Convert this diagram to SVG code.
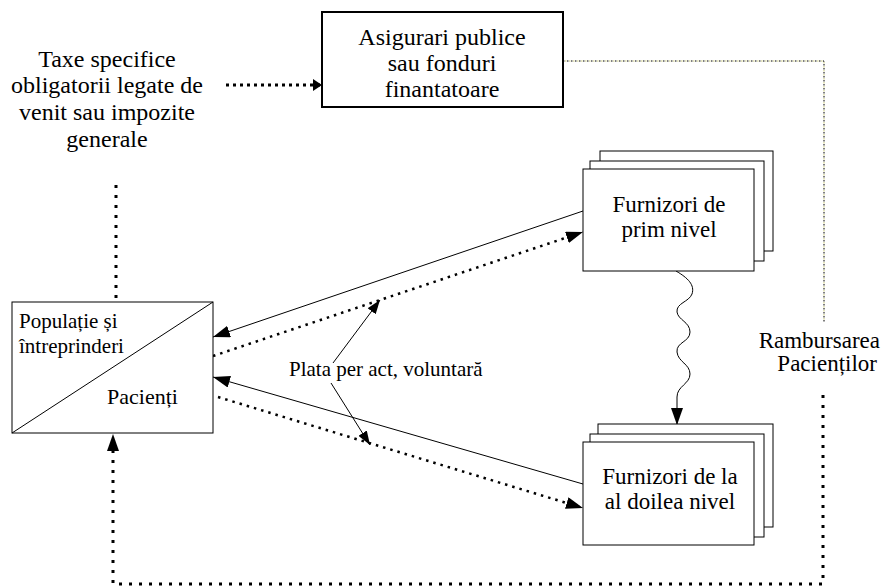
<svg xmlns="http://www.w3.org/2000/svg" width="882" height="587" viewBox="0 0 882 587" font-family="'Liberation Serif', Tinos, 'Times New Roman', 'DejaVu Serif', serif">
<style>
text{font-family:'Liberation Serif', Tinos, 'Times New Roman', 'DejaVu Serif', serif;fill:#000}
.t24{font-size:24px}
.t23{font-size:23px}
.t21{font-size:21px}
.box{fill:#fff;stroke:#000;stroke-width:1}
.box2{fill:#fff;stroke:#000;stroke-width:2}
.solid{fill:none;stroke:#000;stroke-width:1}
.dot{fill:none;stroke:#000;stroke-width:2.5;stroke-dasharray:2.5 5}
.dotb{fill:none;stroke:#000;stroke-width:3;stroke-dasharray:3 7}
.thin{fill:none;stroke-width:1;stroke-dasharray:1.5 2.5}
</style>
<defs>
<marker id="ah" viewBox="0 0 17 12" refX="17" refY="6" markerWidth="17" markerHeight="12" markerUnits="userSpaceOnUse" orient="auto"><path d="M0,0 L17,6 L0,12 z" fill="#000"/></marker>
<marker id="ahs" viewBox="0 0 14 10" refX="14" refY="5" markerWidth="14" markerHeight="10" markerUnits="userSpaceOnUse" orient="auto"><path d="M0,0 L14,5 L0,10 z" fill="#000"/></marker>
<marker id="ahm" viewBox="0 0 9 12" refX="9" refY="6" markerWidth="9" markerHeight="12" markerUnits="userSpaceOnUse" orient="auto"><path d="M0,0 L9,6 L0,12 z" fill="#000"/></marker>
</defs>

<g id="connectors">
<path class="dot" d="M226,85 L322,85" style="stroke-width:3;stroke-dasharray:3 4" marker-end="url(#ahm)"/>
<path class="thin" stroke="#c8c878" d="M563,61 L824,61 L824,322" stroke-dashoffset="2"/>
<path class="thin" stroke="#000" d="M563,61 L824,61 L824,322"/>
<path class="dotb" d="M116,185 L116,302"/>
<path class="dotb" d="M823,395 L823,584 L113,584 L113,434" marker-end="url(#ah)"/>
<path class="solid" d="M583,211 L213,337" marker-end="url(#ah)"/>
<path class="dot" d="M213,356 L583,232" marker-end="url(#ah)"/>
<path class="solid" d="M583,484 L213,377" marker-end="url(#ah)"/>
<path class="dot" d="M218,397 L583,508" marker-end="url(#ah)"/>
<path class="solid" d="M333,363 L380,300" marker-end="url(#ahs)"/>
<path class="solid" d="M331,383 L370,445" marker-end="url(#ahs)"/>
<path class="solid" d="M676,271 C688,278 695,285 692,294 C689,302 676,303 677,312 C678,320 690,322 690,332 C690,342 676,342 677,352 C678,362 690,364 690,374 C690,384 677,386 677,397 L677,425" marker-end="url(#ah)"/>
</g>

<g id="node-taxe">
<text class="t24" text-anchor="middle" x="107" y="67">Taxe specifice</text>
<text class="t24" text-anchor="middle" x="107" y="93">obligatorii legate de</text>
<text class="t24" text-anchor="middle" x="107" y="120">venit sau impozite</text>
<text class="t24" text-anchor="middle" x="107" y="147">generale</text>
</g>

<g id="node-asigurari">
<rect class="box2" x="322" y="12" width="241" height="95"/>
<text class="t24" text-anchor="middle" x="442" y="45">Asigurari publice</text>
<text class="t24" text-anchor="middle" x="442" y="71">sau fonduri</text>
<text class="t24" text-anchor="middle" x="442" y="97">finantatoare</text>
</g>

<g id="node-populatie">
<rect class="box" x="12" y="302" width="201" height="131"/>
<line x1="12" y1="433" x2="213" y2="302" stroke="#000" stroke-width="1"/>
<text class="t21" x="19" y="328">Populație și</text>
<text class="t21" x="19" y="353">întreprinderi</text>
<text x="107" y="404" style="font-size:22px">Pacienți</text>
</g>

<g id="node-furnizori-prim">
<rect class="box" x="600" y="151" width="173" height="100"/>
<rect class="box" x="590" y="161" width="174" height="100"/>
<rect class="box" x="583" y="169" width="171" height="102"/>
<text class="t23" text-anchor="middle" x="669" y="212">Furnizori de</text>
<text class="t23" text-anchor="middle" x="669" y="237">prim nivel</text>
</g>

<g id="node-furnizori-doi">
<rect class="box" x="598" y="424" width="175" height="103"/>
<rect class="box" x="590" y="434" width="174" height="103"/>
<rect class="box" x="583" y="442" width="171" height="103"/>
<text class="t23" text-anchor="middle" x="670" y="484">Furnizori de la</text>
<text class="t23" text-anchor="middle" x="670" y="509">al doilea nivel</text>
</g>

<g id="label-plata">
<text class="t21" x="289" y="376">Plata per act, voluntară</text>
</g>

<g id="label-rambursare">
<text class="t23" text-anchor="end" x="880" y="348">Rambursarea</text>
<text class="t23" text-anchor="end" x="877" y="371">Pacienților</text>
</g>
</svg>
